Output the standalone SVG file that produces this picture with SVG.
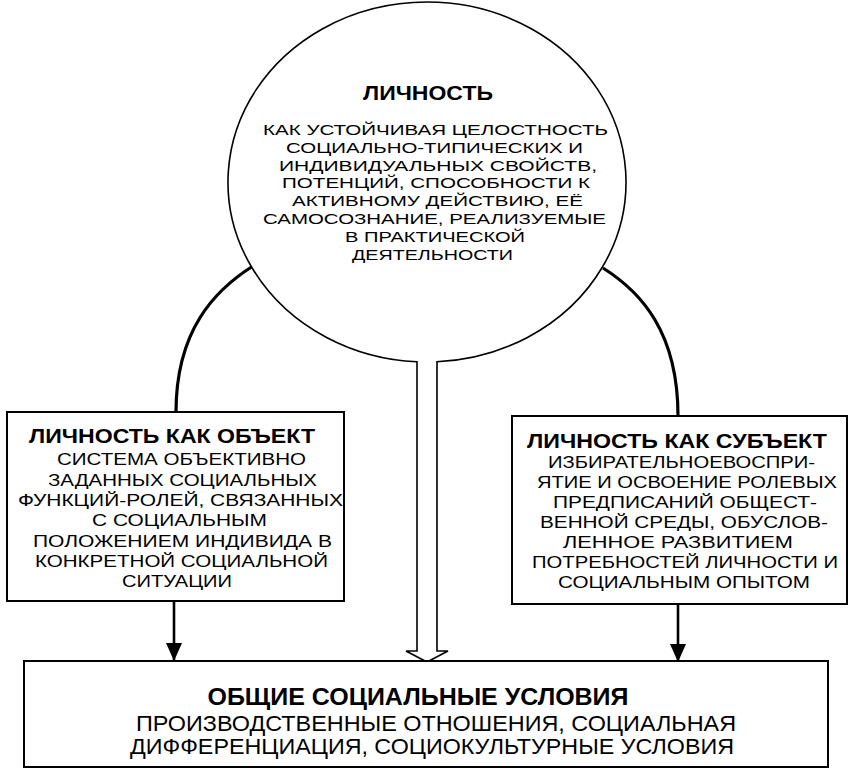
<svg xmlns="http://www.w3.org/2000/svg" width="850" height="773" viewBox="0 0 850 773">
<style>
text{font-family:"Liberation Sans",Arial,"Noto Sans",sans-serif;fill:#000;text-anchor:middle}
.t{font-weight:bold;font-size:21px}
.bt{font-weight:bold;font-size:24px}
.b{font-size:15.5px}
.s{font-size:16.5px}
.l{font-size:22px}
.box{fill:#fff;stroke:#000;stroke-width:2}
.shape{fill:#fff;stroke:#000;stroke-width:1.6}
.thick{fill:none;stroke:#000;stroke-width:3.2}
.arr{fill:none;stroke:#000;stroke-width:2.6;marker-end:url(#ah)}
</style>
<defs>
<marker id="ah" viewBox="0 0 18 16" refX="18" refY="8" markerWidth="18" markerHeight="16" markerUnits="userSpaceOnUse" orient="auto">
<path d="M0,0 L18,8 L0,16 Z" fill="#000"/>
</marker>
</defs>
<rect width="850" height="773" fill="#fff"/>

<g id="connectors">
<path class="thick" d="M253,266 C215,290 176,330 176,412"/>
<path class="thick" d="M603,268 C641,292 678,332 678,416"/>
<line class="arr" x1="174" y1="601" x2="174" y2="661"/>
<line class="arr" x1="678" y1="604" x2="678" y2="662"/>
</g>

<g id="personality">
<path class="shape" d="M417,361.8 A199,180 0 1 1 437,361.8 L437,651 L448,651 L427,662 L406,651 L417,651 Z"/>
<text class="t" x="428" y="100" textLength="130" lengthAdjust="spacingAndGlyphs">ЛИЧНОСТЬ</text>
<text class="b" x="435.5" y="135" textLength="345" lengthAdjust="spacingAndGlyphs">КАК УСТОЙЧИВАЯ ЦЕЛОСТНОСТЬ</text>
<text class="b" x="434.5" y="152.8" textLength="297" lengthAdjust="spacingAndGlyphs">СОЦИАЛЬНО-ТИПИЧЕСКИХ И</text>
<text class="b" x="438" y="170.6" textLength="318" lengthAdjust="spacingAndGlyphs">ИНДИВИДУАЛЬНЫХ СВОЙСТВ,</text>
<text class="b" x="436" y="188.4" textLength="308" lengthAdjust="spacingAndGlyphs">ПОТЕНЦИЙ, СПОСОБНОСТИ К</text>
<text class="b" x="437.5" y="206.2" textLength="291" lengthAdjust="spacingAndGlyphs">АКТИВНОМУ ДЕЙСТВИЮ, ЕЁ</text>
<text class="b" x="434.5" y="224" textLength="343" lengthAdjust="spacingAndGlyphs">САМОСОЗНАНИЕ, РЕАЛИЗУЕМЫЕ</text>
<text class="b" x="435" y="242" textLength="180" lengthAdjust="spacingAndGlyphs">В ПРАКТИЧЕСКОЙ</text>
<text class="b" x="432.5" y="260" textLength="161" lengthAdjust="spacingAndGlyphs">ДЕЯТЕЛЬНОСТИ</text>
</g>

<g id="object">
<rect class="box" x="7" y="412" width="337" height="189"/>
<text class="t" x="172" y="443" textLength="286" lengthAdjust="spacingAndGlyphs">ЛИЧНОСТЬ КАК ОБЪЕКТ</text>
<text class="s" x="181.5" y="465" textLength="249" lengthAdjust="spacingAndGlyphs">СИСТЕМА ОБЪЕКТИВНО</text>
<text class="s" x="182.5" y="485.5" textLength="269" lengthAdjust="spacingAndGlyphs">ЗАДАННЫХ СОЦИАЛЬНЫХ</text>
<text class="s" x="180.5" y="506" textLength="325" lengthAdjust="spacingAndGlyphs">ФУНКЦИЙ-РОЛЕЙ, СВЯЗАННЫХ</text>
<text class="s" x="179.5" y="526" textLength="175" lengthAdjust="spacingAndGlyphs">С СОЦИАЛЬНЫМ</text>
<text class="s" x="182.5" y="546.5" textLength="299" lengthAdjust="spacingAndGlyphs">ПОЛОЖЕНИЕМ ИНДИВИДА В</text>
<text class="s" x="181.5" y="567" textLength="293" lengthAdjust="spacingAndGlyphs">КОНКРЕТНОЙ СОЦИАЛЬНОЙ</text>
<text class="s" x="177" y="587" textLength="110" lengthAdjust="spacingAndGlyphs">СИТУАЦИИ</text>
</g>

<g id="subject">
<rect class="box" x="512" y="416" width="335" height="188"/>
<text class="t" x="677" y="448" textLength="300" lengthAdjust="spacingAndGlyphs">ЛИЧНОСТЬ КАК СУБЪЕКТ</text>
<text class="s" x="681.5" y="468" textLength="267" lengthAdjust="spacingAndGlyphs">ИЗБИРАТЕЛЬНОЕВОСПРИ-</text>
<text class="s" x="687" y="488" textLength="300" lengthAdjust="spacingAndGlyphs">ЯТИЕ И ОСВОЕНИЕ РОЛЕВЫХ</text>
<text class="s" x="685" y="508" textLength="264" lengthAdjust="spacingAndGlyphs">ПРЕДПИСАНИЙ ОБЩЕСТ-</text>
<text class="s" x="684" y="528" textLength="288" lengthAdjust="spacingAndGlyphs">ВЕННОЙ СРЕДЫ, ОБУСЛОВ-</text>
<text class="s" x="678" y="548" textLength="230" lengthAdjust="spacingAndGlyphs">ЛЕННОЕ РАЗВИТИЕМ</text>
<text class="s" x="685" y="568" textLength="306" lengthAdjust="spacingAndGlyphs">ПОТРЕБНОСТЕЙ ЛИЧНОСТИ И</text>
<text class="s" x="684" y="588" textLength="252" lengthAdjust="spacingAndGlyphs">СОЦИАЛЬНЫМ ОПЫТОМ</text>
</g>

<g id="conditions">
<rect class="box" x="24" y="661" width="804" height="106"/>
<text class="bt" x="418" y="705" textLength="421" lengthAdjust="spacingAndGlyphs">ОБЩИЕ СОЦИАЛЬНЫЕ УСЛОВИЯ</text>
<text class="l" x="436" y="731" textLength="600" lengthAdjust="spacingAndGlyphs">ПРОИЗВОДСТВЕННЫЕ ОТНОШЕНИЯ, СОЦИАЛЬНАЯ</text>
<text class="l" x="432" y="754" textLength="604" lengthAdjust="spacingAndGlyphs">ДИФФЕРЕНЦИАЦИЯ, СОЦИОКУЛЬТУРНЫЕ УСЛОВИЯ</text>
</g>
</svg>
